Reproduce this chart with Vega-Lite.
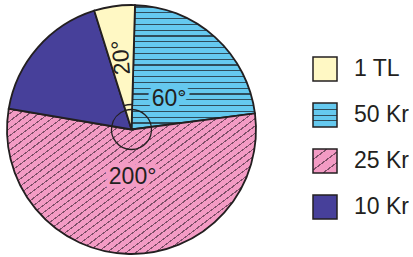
{
 "$schema": "https://vega.github.io/schema/vega-lite/v6.json",
 "width": 263,
 "height": 259,
 "padding": 0,
 "background": "white",
 "config": {"view": {"stroke": null}},
 "data": {"values": [
  {"cat": "50 Kr", "deg": 81, "label": "60°", "ord": 1},
  {"cat": "25 Kr", "deg": 197, "label": "200°", "ord": 2},
  {"cat": "10 Kr", "deg": 63, "label": "", "ord": 3},
  {"cat": "1 TL", "deg": 19, "label": "20°", "ord": 4}
 ]},
 "resolve": {"scale": {"fill": "independent"}, "legend": {"fill": "independent"}},
 "encoding": {
  "theta": {"field": "deg", "type": "quantitative", "stack": true, "scale": {"range": [0.028, 6.3112]}},
  "order": {"field": "ord", "type": "quantitative"}
 },
 "layer": [
  {
   "mark": {"type": "arc", "outerRadius": 124.5, "stroke": "#231f20", "strokeWidth": 1.8},
   "encoding": {
    "fill": {
     "field": "cat", "type": "nominal", "legend": null,
     "scale": {"domain": ["50 Kr", "25 Kr", "10 Kr", "1 TL"], "range": ["#65c9ef", "#f39bc4", "#47409a", "#fff8c4"]},
     "condition": [
      {"test": "datum.cat === '50 Kr'", "value": {"gradient": "linear", "x1": 0, "y1": 0, "x2": 0, "y2": 1, "stops": [
       {"offset": 0, "color": "#65c9ef"},
       {"offset": 0.0105, "color": "#65c9ef"}, {"offset": 0.0105, "color": "#2f4d5c"}, {"offset": 0.0209, "color": "#2f4d5c"}, {"offset": 0.0209, "color": "#65c9ef"},
       {"offset": 0.0571, "color": "#65c9ef"}, {"offset": 0.0571, "color": "#2f4d5c"}, {"offset": 0.0675, "color": "#2f4d5c"}, {"offset": 0.0675, "color": "#65c9ef"},
       {"offset": 0.1037, "color": "#65c9ef"}, {"offset": 0.1037, "color": "#2f4d5c"}, {"offset": 0.1141, "color": "#2f4d5c"}, {"offset": 0.1141, "color": "#65c9ef"},
       {"offset": 0.1503, "color": "#65c9ef"}, {"offset": 0.1503, "color": "#2f4d5c"}, {"offset": 0.1607, "color": "#2f4d5c"}, {"offset": 0.1607, "color": "#65c9ef"},
       {"offset": 0.1969, "color": "#65c9ef"}, {"offset": 0.1969, "color": "#2f4d5c"}, {"offset": 0.2073, "color": "#2f4d5c"}, {"offset": 0.2073, "color": "#65c9ef"},
       {"offset": 0.2435, "color": "#65c9ef"}, {"offset": 0.2435, "color": "#2f4d5c"}, {"offset": 0.2539, "color": "#2f4d5c"}, {"offset": 0.2539, "color": "#65c9ef"},
       {"offset": 0.2901, "color": "#65c9ef"}, {"offset": 0.2901, "color": "#2f4d5c"}, {"offset": 0.3005, "color": "#2f4d5c"}, {"offset": 0.3005, "color": "#65c9ef"},
       {"offset": 0.3367, "color": "#65c9ef"}, {"offset": 0.3367, "color": "#2f4d5c"}, {"offset": 0.3471, "color": "#2f4d5c"}, {"offset": 0.3471, "color": "#65c9ef"},
       {"offset": 0.3833, "color": "#65c9ef"}, {"offset": 0.3833, "color": "#2f4d5c"}, {"offset": 0.3937, "color": "#2f4d5c"}, {"offset": 0.3937, "color": "#65c9ef"},
       {"offset": 0.4299, "color": "#65c9ef"}, {"offset": 0.4299, "color": "#2f4d5c"}, {"offset": 0.4403, "color": "#2f4d5c"}, {"offset": 0.4403, "color": "#65c9ef"},
       {"offset": 0.4765, "color": "#65c9ef"}, {"offset": 0.4765, "color": "#2f4d5c"}, {"offset": 0.4869, "color": "#2f4d5c"}, {"offset": 0.4869, "color": "#65c9ef"},
       {"offset": 0.5231, "color": "#65c9ef"}, {"offset": 0.5231, "color": "#2f4d5c"}, {"offset": 0.5335, "color": "#2f4d5c"}, {"offset": 0.5335, "color": "#65c9ef"},
       {"offset": 0.5697, "color": "#65c9ef"}, {"offset": 0.5697, "color": "#2f4d5c"}, {"offset": 0.5801, "color": "#2f4d5c"}, {"offset": 0.5801, "color": "#65c9ef"},
       {"offset": 0.6163, "color": "#65c9ef"}, {"offset": 0.6163, "color": "#2f4d5c"}, {"offset": 0.6267, "color": "#2f4d5c"}, {"offset": 0.6267, "color": "#65c9ef"},
       {"offset": 0.6629, "color": "#65c9ef"}, {"offset": 0.6629, "color": "#2f4d5c"}, {"offset": 0.6733, "color": "#2f4d5c"}, {"offset": 0.6733, "color": "#65c9ef"},
       {"offset": 0.7096, "color": "#65c9ef"}, {"offset": 0.7096, "color": "#2f4d5c"}, {"offset": 0.72, "color": "#2f4d5c"}, {"offset": 0.72, "color": "#65c9ef"},
       {"offset": 0.7562, "color": "#65c9ef"}, {"offset": 0.7562, "color": "#2f4d5c"}, {"offset": 0.7666, "color": "#2f4d5c"}, {"offset": 0.7666, "color": "#65c9ef"},
       {"offset": 0.8028, "color": "#65c9ef"}, {"offset": 0.8028, "color": "#2f4d5c"}, {"offset": 0.8132, "color": "#2f4d5c"}, {"offset": 0.8132, "color": "#65c9ef"},
       {"offset": 0.8494, "color": "#65c9ef"}, {"offset": 0.8494, "color": "#2f4d5c"}, {"offset": 0.8598, "color": "#2f4d5c"}, {"offset": 0.8598, "color": "#65c9ef"},
       {"offset": 0.896, "color": "#65c9ef"}, {"offset": 0.896, "color": "#2f4d5c"}, {"offset": 0.9064, "color": "#2f4d5c"}, {"offset": 0.9064, "color": "#65c9ef"},
       {"offset": 0.9426, "color": "#65c9ef"}, {"offset": 0.9426, "color": "#2f4d5c"}, {"offset": 0.953, "color": "#2f4d5c"}, {"offset": 0.953, "color": "#65c9ef"},
       {"offset": 0.9892, "color": "#65c9ef"}, {"offset": 0.9892, "color": "#2f4d5c"}, {"offset": 0.9996, "color": "#2f4d5c"}, {"offset": 0.9996, "color": "#65c9ef"},
       {"offset": 1, "color": "#65c9ef"}
      ]}},
      {"test": "datum.cat === '25 Kr'", "value": {"gradient": "linear", "x1": 0, "y1": 0, "x2": 1, "y2": 0.7728, "stops": [
       {"offset": 0, "color": "#f39bc4"},
       {"offset": 0.0211, "color": "#f39bc4"}, {"offset": 0.0211, "color": "#7e4f68"}, {"offset": 0.0255, "color": "#7e4f68"}, {"offset": 0.0255, "color": "#f39bc4"},
       {"offset": 0.0455, "color": "#f39bc4"}, {"offset": 0.0455, "color": "#7e4f68"}, {"offset": 0.0499, "color": "#7e4f68"}, {"offset": 0.0499, "color": "#f39bc4"},
       {"offset": 0.0698, "color": "#f39bc4"}, {"offset": 0.0698, "color": "#7e4f68"}, {"offset": 0.0742, "color": "#7e4f68"}, {"offset": 0.0742, "color": "#f39bc4"},
       {"offset": 0.0942, "color": "#f39bc4"}, {"offset": 0.0942, "color": "#7e4f68"}, {"offset": 0.0986, "color": "#7e4f68"}, {"offset": 0.0986, "color": "#f39bc4"},
       {"offset": 0.1185, "color": "#f39bc4"}, {"offset": 0.1185, "color": "#7e4f68"}, {"offset": 0.1229, "color": "#7e4f68"}, {"offset": 0.1229, "color": "#f39bc4"},
       {"offset": 0.1429, "color": "#f39bc4"}, {"offset": 0.1429, "color": "#7e4f68"}, {"offset": 0.1473, "color": "#7e4f68"}, {"offset": 0.1473, "color": "#f39bc4"},
       {"offset": 0.1673, "color": "#f39bc4"}, {"offset": 0.1673, "color": "#7e4f68"}, {"offset": 0.1717, "color": "#7e4f68"}, {"offset": 0.1717, "color": "#f39bc4"},
       {"offset": 0.1916, "color": "#f39bc4"}, {"offset": 0.1916, "color": "#7e4f68"}, {"offset": 0.196, "color": "#7e4f68"}, {"offset": 0.196, "color": "#f39bc4"},
       {"offset": 0.216, "color": "#f39bc4"}, {"offset": 0.216, "color": "#7e4f68"}, {"offset": 0.2204, "color": "#7e4f68"}, {"offset": 0.2204, "color": "#f39bc4"},
       {"offset": 0.2403, "color": "#f39bc4"}, {"offset": 0.2403, "color": "#7e4f68"}, {"offset": 0.2447, "color": "#7e4f68"}, {"offset": 0.2447, "color": "#f39bc4"},
       {"offset": 0.2647, "color": "#f39bc4"}, {"offset": 0.2647, "color": "#7e4f68"}, {"offset": 0.2691, "color": "#7e4f68"}, {"offset": 0.2691, "color": "#f39bc4"},
       {"offset": 0.2891, "color": "#f39bc4"}, {"offset": 0.2891, "color": "#7e4f68"}, {"offset": 0.2935, "color": "#7e4f68"}, {"offset": 0.2935, "color": "#f39bc4"},
       {"offset": 0.3134, "color": "#f39bc4"}, {"offset": 0.3134, "color": "#7e4f68"}, {"offset": 0.3178, "color": "#7e4f68"}, {"offset": 0.3178, "color": "#f39bc4"},
       {"offset": 0.3378, "color": "#f39bc4"}, {"offset": 0.3378, "color": "#7e4f68"}, {"offset": 0.3422, "color": "#7e4f68"}, {"offset": 0.3422, "color": "#f39bc4"},
       {"offset": 0.3621, "color": "#f39bc4"}, {"offset": 0.3621, "color": "#7e4f68"}, {"offset": 0.3665, "color": "#7e4f68"}, {"offset": 0.3665, "color": "#f39bc4"},
       {"offset": 0.3865, "color": "#f39bc4"}, {"offset": 0.3865, "color": "#7e4f68"}, {"offset": 0.3909, "color": "#7e4f68"}, {"offset": 0.3909, "color": "#f39bc4"},
       {"offset": 0.4109, "color": "#f39bc4"}, {"offset": 0.4109, "color": "#7e4f68"}, {"offset": 0.4153, "color": "#7e4f68"}, {"offset": 0.4153, "color": "#f39bc4"},
       {"offset": 0.4352, "color": "#f39bc4"}, {"offset": 0.4352, "color": "#7e4f68"}, {"offset": 0.4396, "color": "#7e4f68"}, {"offset": 0.4396, "color": "#f39bc4"},
       {"offset": 0.4596, "color": "#f39bc4"}, {"offset": 0.4596, "color": "#7e4f68"}, {"offset": 0.464, "color": "#7e4f68"}, {"offset": 0.464, "color": "#f39bc4"},
       {"offset": 0.4839, "color": "#f39bc4"}, {"offset": 0.4839, "color": "#7e4f68"}, {"offset": 0.4883, "color": "#7e4f68"}, {"offset": 0.4883, "color": "#f39bc4"},
       {"offset": 0.5083, "color": "#f39bc4"}, {"offset": 0.5083, "color": "#7e4f68"}, {"offset": 0.5127, "color": "#7e4f68"}, {"offset": 0.5127, "color": "#f39bc4"},
       {"offset": 0.5327, "color": "#f39bc4"}, {"offset": 0.5327, "color": "#7e4f68"}, {"offset": 0.5371, "color": "#7e4f68"}, {"offset": 0.5371, "color": "#f39bc4"},
       {"offset": 0.557, "color": "#f39bc4"}, {"offset": 0.557, "color": "#7e4f68"}, {"offset": 0.5614, "color": "#7e4f68"}, {"offset": 0.5614, "color": "#f39bc4"},
       {"offset": 0.5814, "color": "#f39bc4"}, {"offset": 0.5814, "color": "#7e4f68"}, {"offset": 0.5858, "color": "#7e4f68"}, {"offset": 0.5858, "color": "#f39bc4"},
       {"offset": 0.6057, "color": "#f39bc4"}, {"offset": 0.6057, "color": "#7e4f68"}, {"offset": 0.6101, "color": "#7e4f68"}, {"offset": 0.6101, "color": "#f39bc4"},
       {"offset": 0.6301, "color": "#f39bc4"}, {"offset": 0.6301, "color": "#7e4f68"}, {"offset": 0.6345, "color": "#7e4f68"}, {"offset": 0.6345, "color": "#f39bc4"},
       {"offset": 0.6545, "color": "#f39bc4"}, {"offset": 0.6545, "color": "#7e4f68"}, {"offset": 0.6589, "color": "#7e4f68"}, {"offset": 0.6589, "color": "#f39bc4"},
       {"offset": 0.6788, "color": "#f39bc4"}, {"offset": 0.6788, "color": "#7e4f68"}, {"offset": 0.6832, "color": "#7e4f68"}, {"offset": 0.6832, "color": "#f39bc4"},
       {"offset": 0.7032, "color": "#f39bc4"}, {"offset": 0.7032, "color": "#7e4f68"}, {"offset": 0.7076, "color": "#7e4f68"}, {"offset": 0.7076, "color": "#f39bc4"},
       {"offset": 0.7275, "color": "#f39bc4"}, {"offset": 0.7275, "color": "#7e4f68"}, {"offset": 0.7319, "color": "#7e4f68"}, {"offset": 0.7319, "color": "#f39bc4"},
       {"offset": 0.7519, "color": "#f39bc4"}, {"offset": 0.7519, "color": "#7e4f68"}, {"offset": 0.7563, "color": "#7e4f68"}, {"offset": 0.7563, "color": "#f39bc4"},
       {"offset": 0.7763, "color": "#f39bc4"}, {"offset": 0.7763, "color": "#7e4f68"}, {"offset": 0.7807, "color": "#7e4f68"}, {"offset": 0.7807, "color": "#f39bc4"},
       {"offset": 0.8006, "color": "#f39bc4"}, {"offset": 0.8006, "color": "#7e4f68"}, {"offset": 0.805, "color": "#7e4f68"}, {"offset": 0.805, "color": "#f39bc4"},
       {"offset": 0.825, "color": "#f39bc4"}, {"offset": 0.825, "color": "#7e4f68"}, {"offset": 0.8294, "color": "#7e4f68"}, {"offset": 0.8294, "color": "#f39bc4"},
       {"offset": 0.8493, "color": "#f39bc4"}, {"offset": 0.8493, "color": "#7e4f68"}, {"offset": 0.8537, "color": "#7e4f68"}, {"offset": 0.8537, "color": "#f39bc4"},
       {"offset": 0.8737, "color": "#f39bc4"}, {"offset": 0.8737, "color": "#7e4f68"}, {"offset": 0.8781, "color": "#7e4f68"}, {"offset": 0.8781, "color": "#f39bc4"},
       {"offset": 0.8981, "color": "#f39bc4"}, {"offset": 0.8981, "color": "#7e4f68"}, {"offset": 0.9025, "color": "#7e4f68"}, {"offset": 0.9025, "color": "#f39bc4"},
       {"offset": 1, "color": "#f39bc4"}
      ]}}
     ]
    }
   }
  },
  {
   "mark": {"type": "arc", "innerRadius": 20, "outerRadius": 20, "stroke": "#231f20", "strokeWidth": 1.3},
   "encoding": {
    "fill": {
     "field": "cat", "type": "nominal",
     "scale": {"domain": ["1 TL", "50 Kr", "25 Kr", "10 Kr"], "range": [
      "#fff8c4",
      {"expr": "({gradient: 'linear', x1: 0, y1: 0, x2: 0, y2: 1, stops: [{offset: 0, color: '#65c9ef'}, {offset: 0.25, color: '#65c9ef'}, {offset: 0.25, color: '#2f4d5c'}, {offset: 0.31, color: '#2f4d5c'}, {offset: 0.31, color: '#65c9ef'}, {offset: 0.48, color: '#65c9ef'}, {offset: 0.48, color: '#2f4d5c'}, {offset: 0.54, color: '#2f4d5c'}, {offset: 0.54, color: '#65c9ef'}, {offset: 0.71, color: '#65c9ef'}, {offset: 0.71, color: '#2f4d5c'}, {offset: 0.77, color: '#2f4d5c'}, {offset: 0.77, color: '#65c9ef'}, {offset: 1, color: '#65c9ef'}]})"},
      {"expr": "({gradient: 'linear', x1: 0, y1: 0, x2: 0.84, y2: 1.12, stops: [{offset: 0, color: '#f39bc4'}, {offset: 0.23, color: '#f39bc4'}, {offset: 0.23, color: '#7e4f68'}, {offset: 0.27, color: '#7e4f68'}, {offset: 0.27, color: '#f39bc4'}, {offset: 0.48, color: '#f39bc4'}, {offset: 0.48, color: '#7e4f68'}, {offset: 0.52, color: '#7e4f68'}, {offset: 0.52, color: '#f39bc4'}, {offset: 0.73, color: '#f39bc4'}, {offset: 0.73, color: '#7e4f68'}, {offset: 0.77, color: '#7e4f68'}, {offset: 0.77, color: '#f39bc4'}, {offset: 1, color: '#f39bc4'}]})"},
      "#47409a"
     ]},
     "legend": {
      "orient": "none", "legendX": 312, "legendY": 56, "title": null,
      "symbolType": "square", "symbolSize": 576, "symbolStrokeColor": "#231f20", "symbolStrokeWidth": 1.5, "symbolOpacity": 1,
      "labelFont": "Liberation Sans", "labelFontSize": 23, "labelColor": "#231f20", "labelOffset": 16, "rowPadding": 16
     }
    }
   }
  },
  {
   "mark": {"type": "arc", "innerRadius": 25, "outerRadius": 25, "filled": false, "stroke": "#231f20", "strokeWidth": 1.3},
   "encoding": {"strokeOpacity": {"condition": {"test": "datum.cat === '1 TL'", "value": 1}, "value": 0}}
  },
  {
   "mark": {"type": "text", "radius": 48.7, "dx": 5, "dy": 6, "font": "Liberation Sans", "fontSize": 23, "align": "center", "baseline": "middle", "fill": "#65c9ef", "stroke": "#65c9ef", "strokeWidth": 9, "strokeJoin": "round"},
   "encoding": {"text": {"field": "label"}, "opacity": {"condition": {"test": "datum.cat === '50 Kr'", "value": 1}, "value": 0}}
  },
  {
   "mark": {"type": "text", "radius": 48.7, "dx": 5, "dy": 6, "font": "Liberation Sans", "fontSize": 23, "align": "center", "baseline": "middle", "fill": "#231f20"},
   "encoding": {"text": {"field": "label"}, "opacity": {"condition": {"test": "datum.cat === '50 Kr'", "value": 1}, "value": 0}}
  },
  {
   "mark": {"type": "text", "radius": 46.5, "dx": 2, "dy": 1, "font": "Liberation Sans", "fontSize": 23, "align": "center", "baseline": "middle", "fill": "#f39bc4", "stroke": "#f39bc4", "strokeWidth": 9, "strokeJoin": "round"},
   "encoding": {"text": {"field": "label"}, "opacity": {"condition": {"test": "datum.cat === '25 Kr'", "value": 1}, "value": 0}}
  },
  {
   "mark": {"type": "text", "radius": 46.5, "dx": 2, "dy": 1, "font": "Liberation Sans", "fontSize": 23, "align": "center", "baseline": "middle", "fill": "#231f20"},
   "encoding": {"text": {"field": "label"}, "opacity": {"condition": {"test": "datum.cat === '25 Kr'", "value": 1}, "value": 0}}
  },
  {
   "mark": {"type": "text", "radius": 72.6, "angle": 265, "font": "Liberation Sans", "fontSize": 23, "align": "center", "baseline": "middle", "fill": "#231f20"},
   "encoding": {"text": {"field": "label"}, "opacity": {"condition": {"test": "datum.cat === '1 TL'", "value": 1}, "value": 0}}
  }
 ]
}
